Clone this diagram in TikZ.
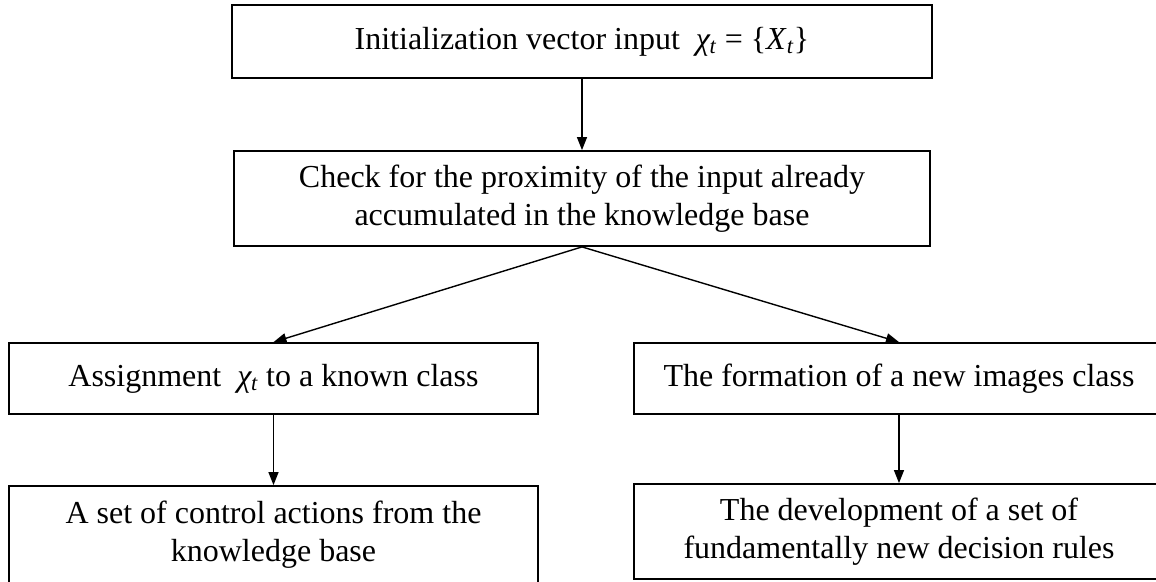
\documentclass[tikz,border=0pt]{standalone}
\usepackage{fontspec}
\setmainfont{Liberation Serif}
\usetikzlibrary{arrows.meta}
\tikzset{
  box/.style={draw, line width=1.8pt, inner sep=0pt, align=center,
    font=\fontsize{32}{38}\selectfont},
  arr/.style={line width=1.4pt, -{Triangle[length=13pt,width=10pt]}},
}
\newcommand{\chit}{\textit{χ}\textsubscript{\kern-1pt\textit{t}}}
\begin{document}
\begin{tikzpicture}[x=1pt,y=-1pt]
\useasboundingbox (0,0) rectangle (1156,581);
\node[box, minimum width=700pt, minimum height=73pt] (init) at (582,41.5)
  {Initialization vector input \ \chit\ = \{\textit{X}\textsubscript{\textit{t}}\}};
\node[box, minimum width=696pt, minimum height=95pt] (check) at (582,198.5)
  {Check for the proximity of the input already\\accumulated in the knowledge base};
\node[box, minimum width=529pt, minimum height=71pt] (assign) at (273.5,378.5)
  {Assignment\ \ \chit\ to a known class};
\node[box, minimum width=530pt, minimum height=71pt] (form) at (899,378.5)
  {The formation of a new images class};
\node[box, minimum width=529pt, minimum height=98pt] (ctrl) at (273.5,535)
  {A set of control actions from the\\knowledge base};
\node[box, minimum width=530pt, minimum height=95pt] (dev) at (899,531.5)
  {The development of a set of\\fundamentally new decision rules};
% connectors
\draw[arr] (init.south) -- (check.north);
\draw[arr] (check.south) -- (assign.north);
\draw[arr] (check.south) -- (form.north);
\draw[arr] (assign.south) -- (ctrl.north);
\draw[arr] (form.south) -- (dev.north);
\end{tikzpicture}
\end{document}
